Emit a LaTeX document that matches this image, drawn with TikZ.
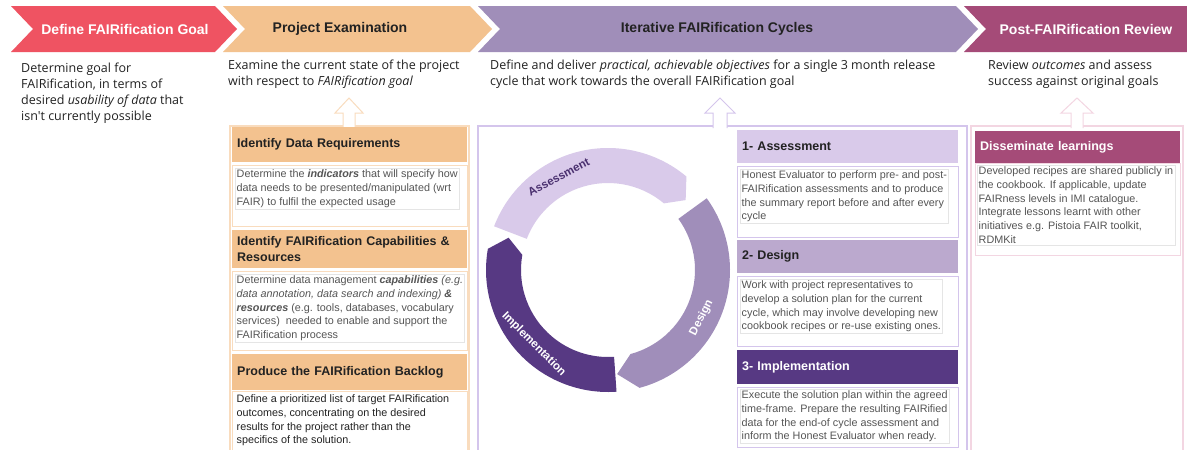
\documentclass[tikz,border=0pt]{standalone}
\usepackage{fontspec}
\setmainfont{Liberation Sans}
\newfontfamily\introfont{Open Sans}
\usepackage{xcolor}
\usepackage{tikz}
\usetikzlibrary{positioning,calc}
\definecolor{goalred}{HTML}{EF5362}
\definecolor{examorange}{HTML}{F3C28F}
\definecolor{examline}{HTML}{F9DCBE}
\definecolor{cyclepurple}{HTML}{A08EB9}
\definecolor{reviewpink}{HTML}{A54B78}
\definecolor{assesslav}{HTML}{D9CAEA}
\definecolor{designlav}{HTML}{BBA9CE}
\definecolor{ringdesign}{HTML}{A08EBA}
\definecolor{implpurple}{HTML}{573983}
\definecolor{cycleline}{HTML}{D4C5EC}
\definecolor{reviewline}{HTML}{F3D6E2}
\definecolor{bodygrey}{HTML}{555555}
\definecolor{inkdark}{HTML}{222222}
\tikzset{
  phase/.style  = {font=\bfseries\fontsize{14}{16}\selectfont, text=inkdark, inner sep=0pt},
  intro/.style  = {font=\introfont\fontsize{12.5}{16}\selectfont, text=inkdark,
                   align=left, anchor=north west, inner sep=0pt},
  hdr/.style    = {anchor=north west, inner xsep=5pt, inner ysep=0pt, align=left,
                   font=\bfseries\fontsize{12.5}{16}\selectfont, text=inkdark},
  panel/.style  = {anchor=north west, draw=#1, fill=white, line width=1pt, inner sep=0pt},
  body/.style   = {font=\fontsize{10.8}{13.8}\selectfont, text=bodygrey, align=left,
                   inner sep=1.5pt, draw=black!10, line width=0.4pt},
  frame/.style  = {draw=#1, line width=1.2pt},
  uparr/.style  = {draw=#1, fill=white, line width=1pt, line join=miter},
  ringlbl/.style = {font=\bfseries\fontsize{11.5}{13}\selectfont, inner sep=0pt},
}

\begin{document}
\begin{tikzpicture}[x=1pt, y=-1pt]
  \useasboundingbox[fill=white] (0,0) rectangle (1187,450);

  % phase banner
  \fill[goalred]     (11,6) -- (215,6) -- (237,29) -- (215,52) -- (11,52) -- (33,29) -- cycle;
  \fill[examorange]  (223,6) -- (470,6) -- (492,29) -- (470,52) -- (223,52) -- (245,29) -- cycle;
  \fill[cyclepurple] (478,6) -- (956,6) -- (978,29) -- (956,52) -- (478,52) -- (500,29) -- cycle;
  \fill[reviewpink]  (964,6) -- (1187,6) -- (1187,52) -- (964,52) -- (986,29) -- cycle;

  \node[phase, text=white] (phGoal)   at (125,29)  {Define FAIRification Goal};
  \node[phase]             (phExam)   at (340,29)  {Project Examination};
  \node[phase]             (phCycle)  at (717,29)  {Iterative FAIRification Cycles};
  \node[phase, text=white] (phReview) at (1086,29) {Post-FAIRification Review};

  % phase summaries
  \node[intro] (inGoal) at (21,63)
    {Determine goal for\\FAIRification, in terms of\\desired \textit{usability of data} that\\isn't currently possible};
  \node[intro] (inExam) at (228,60)
    {Examine the current state of the project\\with respect to \textit{FAIRification goal}};
  \node[intro] (inCycle) at (490,60)
    {Define and deliver \textit{practical, achievable objectives} for a single 3 month release\\cycle that work towards the overall FAIRification goal};
  \node[intro] (inReview) at (988,60)
    {Review \textit{outcomes} and assess\\success against original goals};

  % column frames
  \draw[frame=examline]   (230,126) rectangle (469,456);
  \draw[frame=cycleline]  (478,126) rectangle (967,456);
  \draw[frame=reviewline] (971,126) rectangle (1183,456);

  % hollow arrows up to the summaries
  \filldraw[uparr=examline]   (343,128) -- (343,113) -- (335,113) -- (349,98) -- (363,113) -- (355,113) -- (355,128);
  \filldraw[uparr=cycleline]  (713,128) -- (713,113) -- (705,113) -- (720,98) -- (735,113) -- (727,113) -- (727,128);
  \filldraw[uparr=reviewline] (1071,128) -- (1071,113) -- (1061,113) -- (1077,98) -- (1093,113) -- (1083,113) -- (1083,128);

  % project examination steps
  \node[hdr, fill=examorange, text width=225pt, minimum height=35pt] (hdrReq) at (232,127)
    {Identify Data Requirements};
  \node[panel=examline, minimum width=235pt, minimum height=61pt] (boxReq) at (232,165) {};
  \node[body, below right=3pt and 3pt of boxReq.north west] (txtReq)
    {Determine the \textbf{\textit{indicators}} that will specify how\\data needs to be presented/manipulated (wrt\\FAIR) to fulfil the expected usage};

  \node[hdr, fill=examorange, text width=225pt, minimum height=38pt] (hdrCap) at (232,230)
    {Identify FAIRification Capabilities \&\\Resources};
  \node[panel=examline, minimum width=235pt, minimum height=79pt] (boxCap) at (232,271) {};
  \node[body, below right=3pt and 3pt of boxCap.north west] (txtCap)
    {Determine data management \textbf{\textit{capabilities}} \textit{(e.g.}\\\textit{data annotation, data search and indexing)} \textbf{\textit{\&}}\\\textbf{\textit{resources}} (e.g. tools, databases, vocabulary\\services)\ \ needed to enable and support the\\FAIRification process};

  \node[hdr, fill=examorange, text width=225pt, minimum height=36pt] (hdrLog) at (232,354)
    {Produce the FAIRification Backlog};
  \node[panel=examline, minimum width=235pt, minimum height=62pt] (boxLog) at (232,391) {};
  \node[body, draw=none, text=inkdark, below right=2pt and 3pt of boxLog.north west] (txtLog)
    {Define a prioritized list of target FAIRification\\outcomes, concentrating on the desired\\results for the project rather than the\\specifics of the solution.};

  % release cycle ring
  \begin{scope}[shift={(608,270)}, y=1pt]
    \fill[assesslav]  (159:122) arc[start angle=159, end angle=50, radius=122]
      -- (42:104.5) -- (50:87) arc[start angle=50, end angle=159, radius=87] -- cycle;
    \fill[ringdesign] (36:122) arc[start angle=36, end angle=-75, radius=122]
      -- (-85:104.5) -- (-75:87) arc[start angle=-75, end angle=36, radius=87] -- cycle;
    \fill[implpurple] (-86:122) arc[start angle=-86, end angle=-190, radius=122]
      -- (-198:104.5) -- (-190:87) arc[start angle=-190, end angle=-86, radius=87] -- cycle;
    \node[ringlbl, text=implpurple!85!black, rotate=28] (lblAssess) at (118:105) {Assessment};
    \node[ringlbl, text=white, rotate=63]  (lblDesign) at (-27:105)  {Design};
    \node[ringlbl, text=white, rotate=-45] (lblImpl)   at (-135:105) {Implementation};
  \end{scope}

  % cycle steps
  \node[hdr, fill=assesslav, text width=211pt, minimum height=33pt] (hdrAssess) at (737,130)
    {1- Assessment};
  \node[panel=cycleline, minimum width=221pt, minimum height=71pt] (boxAssess) at (737,166) {};
  \node[body, below right=3pt and 3pt of boxAssess.north west] (txtAssess)
    {Honest Evaluator to perform pre- and post-\\FAIRification assessments and to produce\\the summary report before and after every\\cycle};

  \node[hdr, fill=designlav, text width=211pt, minimum height=33pt] (hdrDesign) at (737,240)
    {2- Design};
  \node[panel=cycleline, minimum width=221pt, minimum height=70pt] (boxDesign) at (737,276) {};
  \node[body, below right=3pt and 3pt of boxDesign.north west] (txtDesign)
    {Work with project representatives to\\develop a solution plan for the current\\cycle, which may involve developing new\\cookbook recipes or re-use existing ones.};

  \node[hdr, fill=implpurple, text=white, text width=211pt, minimum height=34pt] (hdrImpl) at (737,350)
    {3- Implementation};
  \node[panel=cycleline, minimum width=221pt, minimum height=60pt] (boxImpl) at (737,387) {};
  \node[body, below right=2pt and 3pt of boxImpl.north west] (txtImpl)
    {Execute the solution plan within the agreed\\time-frame. Prepare the resulting FAIRified\\data for the end-of cycle assessment and\\inform the Honest Evaluator when ready.};

  % review step
  \node[hdr, fill=reviewpink, text=white, text width=195pt, minimum height=32pt] (hdrLearn) at (975,131)
    {Disseminate learnings};
  \node[panel=reviewline, minimum width=205pt, minimum height=92pt] (boxLearn) at (975,163) {};
  \node[body, below right=2pt and 2pt of boxLearn.north west] (txtLearn)
    {Developed recipes are shared publicly in\\the cookbook. If applicable, update\\FAIRness levels in IMI catalogue.\\Integrate lessons learnt with other\\initiatives e.g. Pistoia FAIR toolkit,\\RDMKit};
\end{tikzpicture}
\end{document}
